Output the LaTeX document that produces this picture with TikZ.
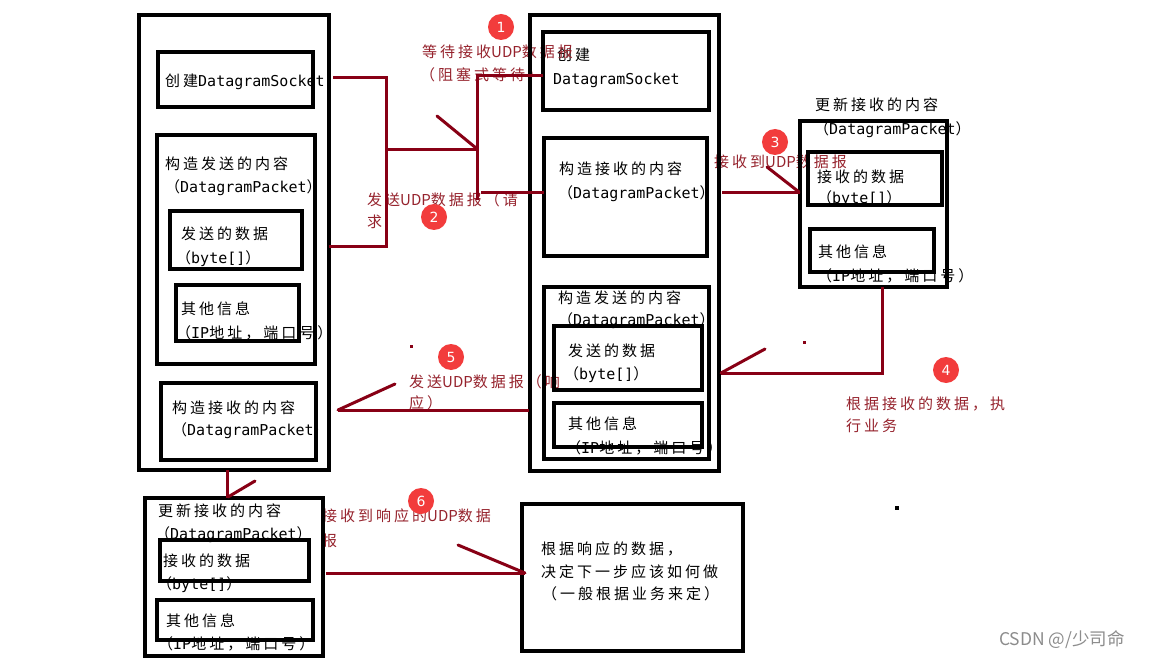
\documentclass[tikz,border=0pt]{standalone}
\usepackage{fontspec}
\usetikzlibrary{fit}
\newfontfamily\zhfnt[LetterSpace=20]{Noto Sans CJK SC}
\newfontfamily\zhnfnt{Noto Sans CJK SC}
\newfontfamily\monofnt{DejaVu Sans Mono}
\newfontfamily\badgefnt{DejaVu Sans}
\newcommand\la[1]{{\monofnt #1}}
\newcommand\ud{{\zhnfnt UDP}}
\definecolor{dk}{RGB}{136,0,21}
\definecolor{lbl}{RGB}{150,35,45}
\definecolor{badge}{RGB}{242,60,60}
\begin{document}
\begin{tikzpicture}[x=1pt,y=-1pt,
  txt/.style={anchor=base west,inner sep=0pt,font=\zhfnt\fontsize{15}{17}\selectfont,text=black},
  rtxt/.style={txt,text=lbl},
  box/.style={draw=black,line width=3.2pt,inner sep=0pt,outer sep=0pt,rectangle},
  con/.style={draw=dk,line width=3pt,line join=miter},
  barb/.style={draw=dk,line width=3pt,line cap=round},
  num/.style={circle,fill=badge,minimum size=26pt,inner sep=0pt,text=white,font=\badgefnt\fontsize{14}{14}\selectfont}]
\useasboundingbox (0,0) rectangle (1155,660);
\fill[white] (0,0) rectangle (1155,660);

% ---------- texts (black) ----------
\node[txt] (a1) at (165,87) {创建\la{DatagramSocket}};
\node[txt] (a2) at (165,170) {构造发送的内容};
\node[txt] (a3) at (165,193) {（\la{DatagramPacket}）};
\node[txt] (a4) at (181,240) {发送的数据};
\node[txt] (a5) at (176,263) {（\la{byte[]}）};
\node[txt] (a6) at (181,314) {其他信息};
\node[txt] (a7) at (176,338) {（\la{IP}地址，端口号）};
\node[txt] (a8) at (172,413) {构造接收的内容};
\node[txt] (a9) at (172,435) {（\la{DatagramPacket}）};

\node[txt] (b1) at (557,61) {创建};
\node[txt] (b2) at (553,85) {\la{DatagramSocket}};
\node[txt] (b3) at (559,175) {构造接收的内容};
\node[txt] (b4) at (558,199) {（\la{DatagramPacket}）};
\node[txt] (b5) at (558,303) {构造发送的内容};
\node[txt] (b6) at (558,325) {（\la{DatagramPacket}）};
\node[txt] (b7) at (568,356) {发送的数据};
\node[txt] (b8) at (564,379) {（\la{byte[]}）};
\node[txt] (b9) at (568,429) {其他信息};
\node[txt] (b10) at (566,453) {（\la{IP}地址，端口号）};

\node[txt] (c1) at (815,111) {更新接收的内容};
\node[txt] (c2) at (814,135) {（\la{DatagramPacket}）};
\node[txt] (c3) at (817,183) {接收的数据};
\node[txt] (c4) at (817,204) {（\la{byte[]}）};
\node[txt] (c5) at (818,258) {其他信息};
\node[txt] (c6) at (817,281) {（\la{IP}地址，端口号）};

\node[txt] (d1) at (158,516) {更新接收的内容};
\node[txt] (d2) at (155,539) {（\la{DatagramPacket}）};
\node[txt] (d3) at (163,566) {接收的数据};
\node[txt] (d4) at (157,589) {（\la{byte[]}）};
\node[txt] (d5) at (166,626) {其他信息};
\node[txt] (d6) at (158,649) {（\la{IP}地址，端口号）};

\node[txt] (e1) at (541,554) {根据响应的数据，};
\node[txt] (e2) at (541,577) {决定下一步应该如何做};
\node[txt] (e3) at (542,599) {（一般根据业务来定）};

% ---------- texts (red labels) ----------
\node[rtxt] (r1) at (422,58) {等待接收\ud 数据报};
\node[rtxt] (r2) at (420,81) {（阻塞式等待）};
\node[rtxt] (r3) at (367,206) {发送\ud 数据报（请};
\node[rtxt] (r4) at (367,228) {求};
\node[rtxt] (r5) at (714,168) {接收到\ud 数据报};
\node[rtxt] (r6) at (846,409) {根据接收的数据，执};
\node[rtxt] (r7) at (846,431) {行业务};
\node[rtxt] (r8) at (409,387) {发送\ud 数据报（响};
\node[rtxt] (r9) at (409,408) {应）};
\node[rtxt] (r10) at (322,521) {接收到响应的\ud 数据};
\node[rtxt] (r11) at (322,546) {报};

% ---------- boxes ----------
\node[box,fit={(139,15)(329,470)}] (L) {};
\node[box,fit={(158,52)(313,107)}] (L1) {};
\node[box,fit={(157,135)(315,364)}] (L2) {};
\node[box,fit={(170,211)(302,269)}] (L2a) {};
\node[box,fit={(176,285)(299,341)}] (L2b) {};
\node[box,fit={(161,383)(316,460)}] (L3) {};

\node[box,fit={(530,15)(719,471)}] (M) {};
\node[box,fit={(543,32)(709,110)}] (M1) {};
\node[box,fit={(544,138)(707,256)}] (M2) {};
\node[box,fit={(544,287)(709,459)}] (M3) {};
\node[box,fit={(554,326)(702,390)}] (M3a) {};
\node[box,fit={(554,403)(702,447)}] (M3b) {};

\node[box,fit={(800,121)(947,287)}] (R) {};
\node[box,fit={(808,152)(942,205)}] (Ra) {};
\node[box,fit={(810,229)(934,272)}] (Rb) {};

\node[box,fit={(145,498)(323,656)}] (BL) {};
\node[box,fit={(160,540)(309,581)}] (BLa) {};
\node[box,fit={(157,600)(313,640)}] (BLb) {};

\node[box,fit={(522,504)(743,651)}] (BR) {};

% ---------- connectors ----------
\coordinate (p1) at (333,78);
\coordinate (p2) at (386,78);
\coordinate (p3) at (386,246);
\coordinate (p4) at (L.east |- p3);
\coordinate (p5) at (386,150);
\coordinate (p6) at (477,150);
\coordinate (p7) at (477,76);
\coordinate (p8) at (477,200);
\coordinate (p9) at (481,193);
\coordinate (bq1) at (437,116);
\draw[con] (p1) -- (p2) -- (p3) -- (p4);
\draw[con] (p5) -- (p6);
\draw[con] (p8) -- (p7) -- (M1.west |- p7);
\draw[con] (p9) -- (M2.west |- p9);
\draw[barb] (bq1) -- (476,148);

\coordinate (q1) at (722,193);
\coordinate (bq3) at (767,167);
\draw[con] (q1) -- (R.west |- q1);
\draw[barb] (bq3) -- (799,192);

\coordinate (s1) at (882,373);
\coordinate (s2) at (721,373);
\coordinate (bq4) at (765,349);
\draw[con] (R.south -| s1) -- (s1) -- (s2);
\draw[barb] (bq4) -- (s2);

\coordinate (u1) at (529,410);
\coordinate (u2) at (338,410);
\coordinate (bq5) at (395,384);
\draw[con] (u1) -- (u2);
\draw[barb] (bq5) -- (u2);

\coordinate (v1) at (227,470);
\coordinate (bq6) at (255,481);
\draw[con] (v1) -- (BL.north -| v1);
\draw[barb] (bq6) -- (228,497);

\coordinate (w1) at (326,573);
\coordinate (w2) at (525,573);
\coordinate (bq7) at (458,545);
\draw[con] (w1) -- (w2);
\draw[barb] (bq7) -- (w2);

% small dots
\fill[dk] (802.5,340.5) rectangle (805.5,343.5);
\fill[dk] (409.5,344.5) rectangle (412.5,347.5);
\fill[black] (895,506) rectangle (899,510);

% ---------- badges ----------
\node[num] (n1) at (501,27) {1};
\node[num] (n2) at (434,217) {2};
\node[num] (n3) at (775,142) {3};
\node[num] (n4) at (946,370) {4};
\node[num] (n5) at (451,357) {5};
\node[num] (n6) at (421,501) {6};

% watermark
\node[anchor=base west,inner sep=0pt,text=black!45,font=\zhnfnt\fontsize{17.5}{18}\selectfont] (wm) at (999,645) {CSDN @/少司命};
\end{tikzpicture}
\end{document}
